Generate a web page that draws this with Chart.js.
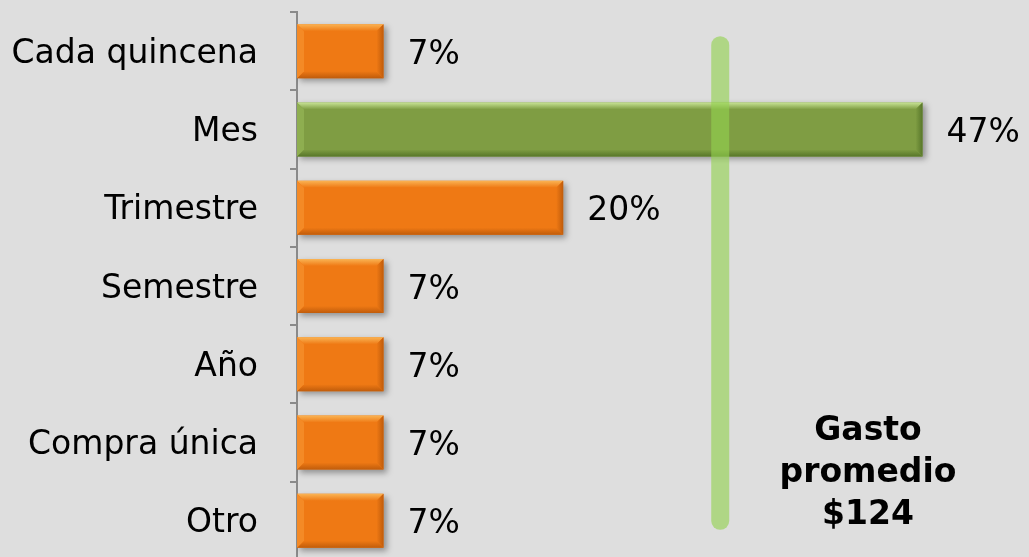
<!DOCTYPE html>
<html>
<head>
<meta charset="utf-8">
<script src="https://cdn.jsdelivr.net/npm/chart.js@4.4.0/dist/chart.umd.min.js"></script>
<style>
  html, body { margin: 0; padding: 0; background: #dedede; overflow: hidden; }
  #wrap { width: 1029px; height: 560px; }
</style>
</head>
<body>
<div id="wrap"><canvas id="c" width="1029" height="560"></canvas></div>
<script>
const categories = ['Cada quincena', 'Mes', 'Trimestre', 'Semestre', 'Año', 'Compra única', 'Otro'];
const values = [6.5, 47, 20, 6.5, 6.5, 6.5, 6.5];
const valueLabels = ['7%', '47%', '20%', '7%', '7%', '7%', '7%'];
const highlightCategory = 'Mes';
const averageMarker = 31.8;
const averageText = ['Gasto', 'promedio', '$124'];

const FONT = '"DejaVu Sans", Verdana, sans-serif';
const ORANGE = { main: '#ef7914', light: '#fab454', lightSide: '#f48a26', dark: '#c05c0b' };
const GREEN = { main: '#7f9d43', light: '#c8e496', lightSide: '#8eae50', dark: '#58772a' };
const pal = i => categories[i] === highlightCategory ? GREEN : ORANGE;

const shadowPlugin = {
  id: 'shadow',
  beforeDatasetDraw(chart) {
    const ctx = chart.ctx;
    ctx.save();
    ctx.shadowColor = 'rgba(0,0,0,0.35)';
    ctx.shadowBlur = 6;
    ctx.shadowOffsetX = 3;
    ctx.shadowOffsetY = 3;
  },
  afterDatasetDraw(chart) { chart.ctx.restore(); }
};

const bevelPlugin = {
  id: 'bevel',
  afterDatasetsDraw(chart) {
    const ctx = chart.ctx;
    const meta = chart.getDatasetMeta(0);
    meta.data.forEach((el, i) => {
      const p = pal(i);
      const l = Math.min(el.base, el.x), r = Math.max(el.base, el.x);
      const t = el.y - el.height / 2, b = el.y + el.height / 2;
      const s = 7;
      const poly = (pts, fill) => {
        ctx.beginPath();
        ctx.moveTo(pts[0][0], pts[0][1]);
        for (let k = 1; k < pts.length; k++) ctx.lineTo(pts[k][0], pts[k][1]);
        ctx.closePath();
        ctx.fillStyle = fill;
        ctx.fill();
      };
      ctx.save();
      const gTop = ctx.createLinearGradient(0, t, 0, t + s);
      gTop.addColorStop(0, p.light);
      gTop.addColorStop(1, p.main);
      poly([[l, t], [r, t], [r - s, t + s], [l + s, t + s]], gTop);
      const gBot = ctx.createLinearGradient(0, b - s, 0, b);
      gBot.addColorStop(0, p.main);
      gBot.addColorStop(1, p.dark);
      poly([[l, b], [r, b], [r - s, b - s], [l + s, b - s]], gBot);
      poly([[l, t], [l + s, t + s], [l + s, b - s], [l, b]], p.lightSide);
      const gR = ctx.createLinearGradient(r - s, 0, r, 0);
      gR.addColorStop(0, p.main);
      gR.addColorStop(1, p.dark);
      poly([[r, t], [r - s, t + s], [r - s, b - s], [r, b]], gR);
      ctx.restore();
    });
  }
};

const markerPlugin = {
  id: 'marker',
  afterDatasetsDraw(chart) {
    const ctx = chart.ctx;
    const xs = chart.scales.x, ys = chart.scales.y;
    const x = xs.getPixelForValue(averageMarker);
    const top = ys.getPixelForValue(0) - 6;
    const bottom = ys.getPixelForValue(categories.length - 1);
    ctx.save();
    ctx.strokeStyle = 'rgba(147,210,79,0.62)';
    ctx.lineWidth = 18;
    ctx.lineCap = 'round';
    ctx.beginPath();
    ctx.moveTo(x, top);
    ctx.lineTo(x, bottom);
    ctx.stroke();

    // value labels
    const meta = chart.getDatasetMeta(0);
    ctx.fillStyle = '#000';
    ctx.font = '33px ' + FONT;
    ctx.textAlign = 'left';
    ctx.textBaseline = 'middle';
    meta.data.forEach((el, i) => {
      ctx.fillText(valueLabels[i], el.x + 24, el.y + 4);
    });

    // average text
    ctx.font = 'bold 33px ' + FONT;
    ctx.textAlign = 'center';
    const cx = chart.chartArea.right - 161;
    const baseY = ys.getPixelForValue(categories.length - 1);
    averageText.forEach((line, k) => {
      ctx.fillText(line, cx, baseY - 89 + k * 42);
    });
    ctx.restore();
  }
};

new Chart(document.getElementById('c'), {
  type: 'bar',
  data: {
    labels: categories,
    datasets: [{
      data: values,
      backgroundColor: ctx => pal(ctx.dataIndex).main,
      borderWidth: 0,
      barPercentage: 0.69,
      categoryPercentage: 1
    }]
  },
  options: {
    indexAxis: 'y',
    responsive: false,
    devicePixelRatio: 1,
    animation: false,
    layout: { padding: { top: 12, left: 0, right: 0, bottom: 0 } },
    plugins: { legend: { display: false }, tooltip: { enabled: false } },
    scales: {
      x: { min: 0, max: 55, display: false },
      y: {
        grid: { offset: true, drawOnChartArea: false, tickLength: 7, color: '#8a8a8a', lineWidth: 2 },
        border: { color: '#8a8a8a', width: 2 },
        ticks: { color: '#000', font: { family: FONT, size: 33 }, padding: 32, labelOffset: 3 },
        afterFit(scale) { scale.width = 297; scale.paddingTop = 0; scale.paddingBottom = 0; }
      }
    }
  },
  plugins: [shadowPlugin, bevelPlugin, markerPlugin]
});
</script>
</body>
</html>
